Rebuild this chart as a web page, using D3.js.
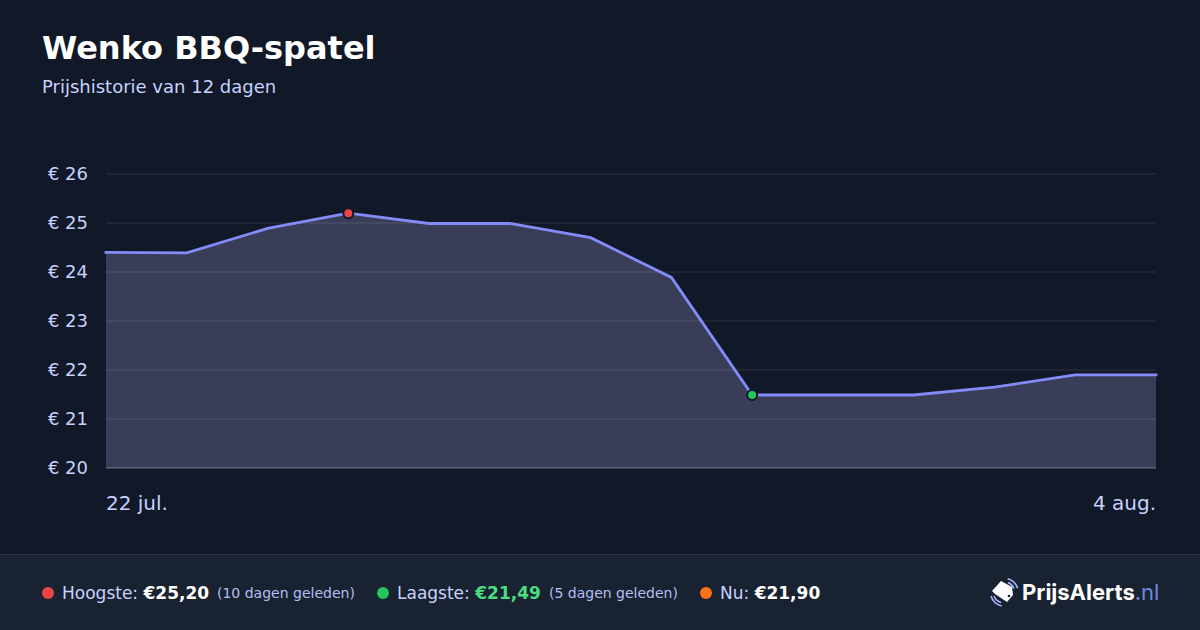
<!DOCTYPE html>
<html>
<head>
<meta charset="utf-8">
<script src="https://cdn.jsdelivr.net/npm/d3@7"></script>
<style>
html,body{margin:0;padding:0;background:#111827;}
svg{display:block;font-family:"DejaVu Sans",sans-serif;}
</style>
</head>
<body>
<script>
var days=["22 jul.","23 jul.","24 jul.","25 jul.","26 jul.","27 jul.","28 jul.","29 jul.","30 jul.","31 jul.","1 aug.","2 aug.","3 aug.","4 aug."];
var prices=[24.40,24.39,24.89,25.20,24.99,24.99,24.70,23.89,21.49,21.49,21.49,21.65,21.90,21.90];
var yTicks=[20,21,22,23,24,25,26];
var xLabels=["22 jul.","4 aug."];
var highIdx=3, lowIdx=8;

var svg=d3.select("body").append("svg").attr("width",1200).attr("height",630);
svg.append("rect").attr("width",1200).attr("height",630).attr("fill","#111827");

svg.append("text").attr("x",42).attr("y",59).attr("font-size",32).attr("font-weight",700).attr("fill","#ffffff").text("Wenko BBQ-spatel");
svg.append("text").attr("x",42).attr("y",93).attr("font-size",18).attr("fill","#c7d2fe").text("Prijshistorie van 12 dagen");

var x=d3.scalePoint().domain(days).range([106,1156]);
var y=d3.scaleLinear().domain([20,26]).range([468,174]);

var area=d3.area().x(function(d,i){return x(days[i]);}).y0(y(20)).y1(function(d){return y(d);});
var line=d3.line().x(function(d,i){return x(days[i]);}).y(function(d){return y(d);});

svg.append("path").datum(prices).attr("d",area).attr("fill","#393d57");

// grid + y labels, on top of the area
var yAxis=svg.append("g").attr("transform","translate(106,-0.5)")
    .call(d3.axisLeft(y).tickValues(yTicks).tickSize(-1050).tickPadding(18).tickFormat(function(d){return "€ "+d;}));
yAxis.select(".domain").remove();
yAxis.selectAll(".tick line").attr("stroke","#ffffff").attr("stroke-opacity",function(d){return d==20?0.18:0.06;}).attr("stroke-width",2);
yAxis.selectAll(".tick text").attr("fill","#c7d2fe").attr("font-size",18).attr("font-family","DejaVu Sans");

svg.append("path").datum(prices).attr("d",line).attr("fill","none").attr("stroke","#818cf8").attr("stroke-width",2.8).attr("stroke-linecap","square");

svg.append("circle").attr("cx",x(days[highIdx])).attr("cy",y(prices[highIdx])).attr("r",5).attr("fill","#ef4444").attr("stroke","#111827").attr("stroke-width",2);
svg.append("circle").attr("cx",x(days[lowIdx])).attr("cy",y(prices[lowIdx])).attr("r",5).attr("fill","#22c55e").attr("stroke","#111827").attr("stroke-width",2);

// x labels, only first and last
svg.append("text").attr("x",x(xLabels[0])).attr("y",510).attr("font-size",20).attr("fill","#c7d2fe").text(xLabels[0]);
svg.append("text").attr("x",x(xLabels[1])).attr("y",510).attr("font-size",20).attr("text-anchor","end").attr("fill","#c7d2fe").text(xLabels[1]);

// footer
svg.append("rect").attr("y",554).attr("width",1200).attr("height",76).attr("fill","#182230");
svg.append("rect").attr("y",554).attr("width",1200).attr("height",1).attr("fill","#27304f");

function stat(cx,color,label,val,valColor,note,tx){
    svg.append("circle").attr("cx",cx).attr("cy",593).attr("r",6).attr("fill",color);
    var t=svg.append("text").attr("x",cx+14).attr("y",599).attr("font-size",17).attr("fill","#c7d2fe");
    t.append("tspan").text(label+" ");
    t.append("tspan").attr("font-weight",700).attr("fill",valColor).text(val);
    if(note) svg.append("text").attr("x",tx).attr("y",598).attr("font-size",14).attr("fill","#b2bff4").text(note);
}
stat(48,"#ef4444","Hoogste:","€25,20","#ffffff","(10 dagen geleden)",217);
stat(383,"#22c55e","Laagste:","€21,49","#4ade80","(5 dagen geleden)",549);
stat(706,"#f97316","Nu:","€21,90","#ffffff",null,0);

// logo
var logo=svg.append("g").attr("transform","translate(1003,592)");
logo.append("path").attr("d","M-2,-11 L-11,-1 L-8,2 L4,10 L10,3 L9,-5 Z").attr("fill","#ffffff");
logo.append("circle").attr("cx",6).attr("cy",4).attr("r",1.3).attr("fill","#182230");
logo.append("path").attr("d","M5,-9.5 A11,11 0 0 1 11,-3.5").attr("fill","none").attr("stroke","#a5b4fc").attr("stroke-width",1.6);
logo.append("path").attr("d","M4.7,-13.3 A15,15 0 0 1 14.7,-3.7").attr("fill","none").attr("stroke","#a5b4fc").attr("stroke-width",1.6);
logo.append("path").attr("d","M-9,4 A11,11 0 0 0 -2,10.5").attr("fill","none").attr("stroke","#a5b4fc").attr("stroke-width",1.6);
logo.append("path").attr("d","M-12,4 A15,15 0 0 0 -1.3,14").attr("fill","none").attr("stroke","#a5b4fc").attr("stroke-width",1.6);
var lt=svg.append("text").attr("x",1022).attr("y",600).attr("font-family","Inter").attr("font-size",22).attr("font-weight",700).attr("fill","#ffffff");
lt.append("tspan").text("PrijsAlerts");
lt.append("tspan").attr("font-weight",400).attr("fill","#7088de").text(".nl");
</script>
</body>
</html>
